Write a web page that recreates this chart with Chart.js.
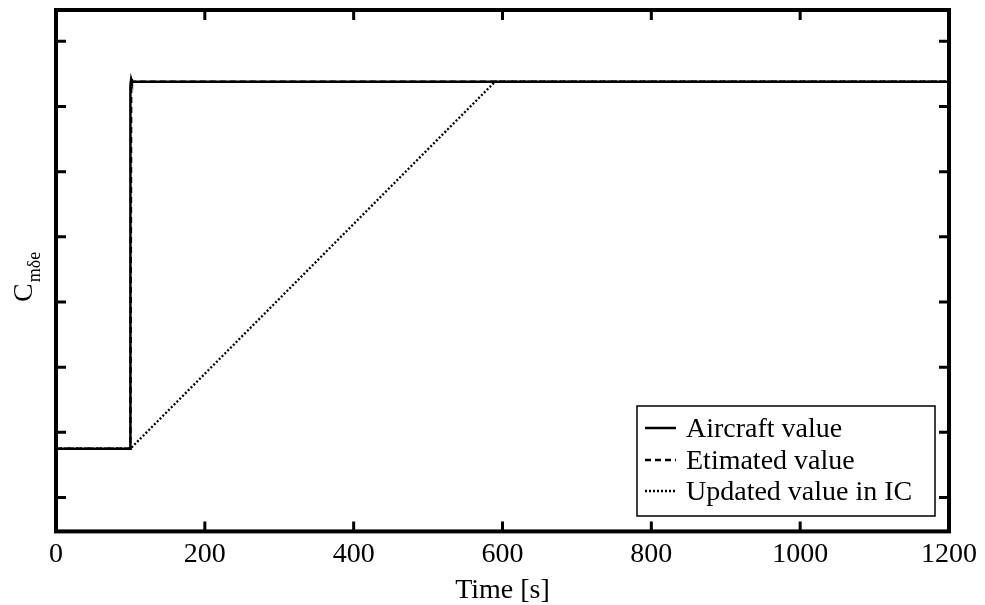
<!DOCTYPE html>
<html>
<head>
<meta charset="utf-8">
<script src="https://cdn.jsdelivr.net/npm/chart.js@4/dist/chart.umd.min.js"></script>
<style>
html,body{margin:0;padding:0;background:#fff;}
#wrap{width:985px;height:605px;position:relative;}
</style>
</head>
<body>
<div id="wrap"><canvas id="c" width="985" height="605"></canvas></div>
<script>
// ---- data (y in arbitrary units, y ticks unlabeled) ----
const xTicks = [0, 200, 400, 600, 800, 1000, 1200];
const yTicks = [0, 1, 2, 3, 4, 5, 6, 7];
const yMin = -0.52;
const yMax = 7.48;

const seriesLabels = ['Aircraft value', 'Etimated value', 'Updated value in IC'];

const timeAircraft  = [0, 99.5, 100, 101, 102, 1200];
const aircraftValue = [0.75, 0.75, 6.32, 6.42, 6.38, 6.38];

const timeEstimated  = [0, 100, 101, 1200];
const estimatedValue = [0.75, 0.75, 6.38, 6.38];

const timeUpdated  = [0, 100, 590, 1200];
const updatedValue = [0.75, 0.75, 6.38, 6.38];

const yTitleMain = 'C';
const yTitleSub = 'mδe';
const xTitle = 'Time [s]';

function pts(xs, ys){ return xs.map((x,i)=>({x:x, y:ys[i]})); }

const FONT = '"Liberation Serif", "Times New Roman", serif';

const framePlugin = {
  id: 'frame',
  afterDatasetsDraw(chart){
    const ctx = chart.ctx, a = chart.chartArea;
    const xs = chart.scales.x, ys = chart.scales.y;
    ctx.save();
    ctx.strokeStyle = '#000';
    // inner tick marks
    ctx.lineWidth = 3;
    const tl = 10;
    yTicks.forEach(v => {
      const py = ys.getPixelForValue(v);
      ctx.beginPath();
      ctx.moveTo(a.left, py); ctx.lineTo(a.left + tl, py);
      ctx.moveTo(a.right, py); ctx.lineTo(a.right - tl, py);
      ctx.stroke();
    });
    xTicks.forEach(v => {
      const px = xs.getPixelForValue(v);
      ctx.beginPath();
      ctx.moveTo(px, a.bottom); ctx.lineTo(px, a.bottom - tl);
      ctx.moveTo(px, a.top); ctx.lineTo(px, a.top + tl);
      ctx.stroke();
    });
    // frame
    ctx.lineWidth = 4;
    ctx.strokeRect(a.left, a.top, a.right - a.left, a.bottom - a.top);

    // legend box
    const lx = 637, ly = 406, lw = 298, lh = 110;
    ctx.fillStyle = '#fff';
    ctx.fillRect(lx, ly, lw, lh);
    ctx.lineWidth = 1.5;
    ctx.strokeRect(lx, ly, lw, lh);
    const rowsBase = [437, 469, 500];
    chart.data.datasets.forEach((ds, i) => {
      const base = rowsBase[i];
      const my = base - 9;
      ctx.save();
      ctx.lineWidth = ds.legendWidth;
      ctx.setLineDash(ds.borderDash || []);
      ctx.beginPath();
      ctx.moveTo(645, my); ctx.lineTo(676, my);
      ctx.stroke();
      ctx.restore();
      ctx.fillStyle = '#000';
      ctx.font = '28px ' + FONT;
      ctx.textBaseline = 'alphabetic';
      ctx.textAlign = 'left';
      ctx.fillText(ds.label, 686, base);
    });

    // y-axis title: C with subscript, rotated
    ctx.save();
    ctx.translate(32, 302);
    ctx.rotate(-Math.PI/2);
    ctx.fillStyle = '#000';
    ctx.textAlign = 'left';
    ctx.textBaseline = 'alphabetic';
    ctx.font = '28px ' + FONT;
    ctx.fillText(yTitleMain, 0, 0);
    const w = ctx.measureText(yTitleMain).width;
    ctx.font = '18px ' + FONT;
    ctx.fillText(yTitleSub, w + 1, 8);
    ctx.restore();
    ctx.restore();
  }
};

new Chart(document.getElementById('c'), {
  type: 'line',
  data: {
    datasets: [
      { label: seriesLabels[0], data: pts(timeAircraft, aircraftValue),
        borderColor: '#000', borderWidth: 2.5, legendWidth: 2.5, borderDash: [], pointRadius: 0, tension: 0 },
      { label: seriesLabels[1], data: pts(timeEstimated, estimatedValue),
        borderColor: '#000', borderWidth: 2.5, legendWidth: 2.5, borderDash: [6, 4], pointRadius: 0, tension: 0 },
      { label: seriesLabels[2], data: pts(timeUpdated, updatedValue),
        borderColor: '#000', borderWidth: 2.3, legendWidth: 2.3, borderDash: [2, 2], pointRadius: 0, tension: 0 }
    ]
  },
  options: {
    responsive: false,
    animation: false,
    events: [],
    layout: { padding: { left: 56, right: 36, top: 10, bottom: 0 } },
    plugins: { legend: { display: false }, tooltip: { enabled: false } },
    scales: {
      x: {
        type: 'linear', min: 0, max: 1200,
        afterBuildTicks: s => { s.ticks = xTicks.map(v => ({value: v})); },
        grid: { display: false, drawTicks: false },
        border: { display: false },
        ticks: { color: '#000', font: { family: FONT, size: 28 }, padding: 6, maxRotation: 0,
                 callback: v => String(v) },
        title: { display: true, text: xTitle, color: '#000', font: { family: FONT, size: 28, lineHeight: 1.0 },
                 padding: { top: 0, bottom: 0 } }
      },
      y: {
        type: 'linear', min: yMin, max: yMax, display: false,
        afterBuildTicks: s => { s.ticks = yTicks.map(v => ({value: v})); }
      }
    }
  },
  plugins: [framePlugin]
});
</script>
</body>
</html>
